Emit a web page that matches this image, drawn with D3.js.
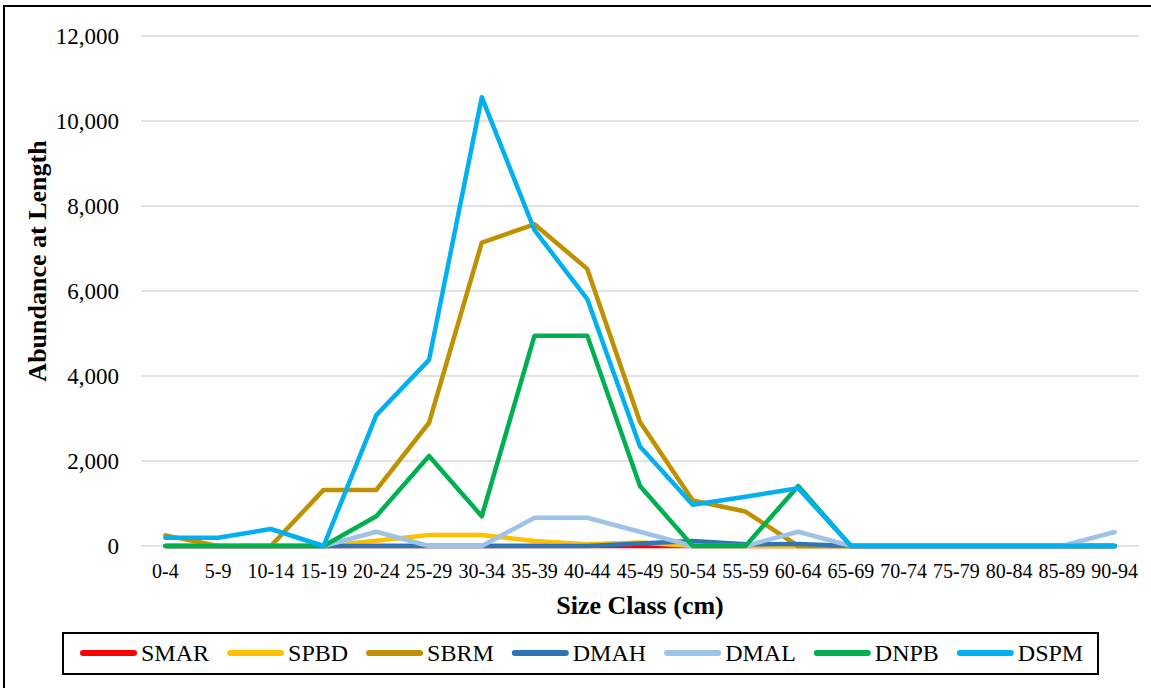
<!DOCTYPE html>
<html>
<head>
<meta charset="utf-8">
<script src="https://cdn.jsdelivr.net/npm/d3@7"></script>
<style>
  html, body { margin: 0; padding: 0; background: #fff; }
  svg { display: block; font-family: "Liberation Serif", "Times New Roman", serif; }
</style>
</head>
<body>
<svg id="chart" width="1151" height="688"></svg>
<script>
const categories = ["0-4","5-9","10-14","15-19","20-24","25-29","30-34","35-39","40-44","45-49","50-54","55-59","60-64","65-69","70-74","75-79","80-84","85-89","90-94"];
const seriesNames = ["SMAR","SPBD","SBRM","DMAH","DMAL","DNPB","DSPM"];
const SMAR = [0,0,0,0,0,0,0,0,0,0,0,0,0,0,0,0,0,0,0];
const SPBD = [0,0,0,0,125,260,260,120,40,80,0,0,0,0,0,0,0,0,0];
const SBRM = [250,0,0,1320,1320,2900,7140,7570,6520,2920,1070,810,0,0,0,0,0,0,0];
const DMAH = [0,0,0,0,0,0,0,0,0,60,120,40,50,0,0,0,0,0,0];
const DMAL = [0,0,0,0,335,0,0,665,665,335,0,0,335,0,0,0,0,0,330];
const DNPB = [0,0,0,0,700,2120,700,4950,4950,1410,0,0,1410,0,0,0,0,0,0];
const DSPM = [195,195,400,0,3080,4380,10560,7430,5810,2340,970,1160,1360,0,0,0,0,0,0];
const yTicks = [0,2000,4000,6000,8000,10000,12000];
const colors = ["#FF0000","#FFC000","#BF9000","#2E75B6","#9DC3E6","#00B050","#00B0F0"];
const seriesValues = [SMAR,SPBD,SBRM,DMAH,DMAL,DNPB,DSPM];

const svg = d3.select("#chart");

// outer frame
svg.append("rect").attr("x",4).attr("y",6).attr("width",1160).attr("height",700)
  .attr("fill","none").attr("stroke","#000").attr("stroke-width",2);

const x = d3.scaleBand().domain(categories).range([139,1141]).padding(0);
const y = d3.scaleLinear().domain([0,12000]).range([546,36]);

// gridlines
svg.append("g").selectAll("line").data(yTicks).join("line")
  .attr("x1",141).attr("x2",1139)
  .attr("y1",d=>y(d)).attr("y2",d=>y(d))
  .attr("stroke","#D9D9D9").attr("stroke-width",1.5);

// y tick labels
svg.append("g").selectAll("text").data(yTicks).join("text")
  .attr("x",119).attr("y",d=>y(d)).attr("dy","0.35em")
  .attr("text-anchor","end").attr("font-size",23).attr("fill","#000")
  .text(d=>d3.format(",")(d));

// x tick labels
svg.append("g").selectAll("text").data(categories).join("text")
  .attr("x",d=>x(d)+x.bandwidth()/2).attr("y",578)
  .attr("text-anchor","middle").attr("font-size",20).attr("fill","#000")
  .text(d=>d);

// lines
const line = d3.line().x((d,i)=>x(categories[i])+x.bandwidth()/2).y(d=>y(d));
seriesValues.forEach((vals,k)=>{
  svg.append("path").datum(vals).attr("d",line)
    .attr("fill","none").attr("stroke",colors[k]).attr("stroke-width",4.5)
    .attr("stroke-linejoin","round").attr("stroke-linecap","round");
});

// axis titles
svg.append("text").attr("x",640).attr("y",614).attr("text-anchor","middle")
  .attr("font-size",26).attr("font-weight","bold").text("Size Class (cm)");
svg.append("text").attr("transform","translate(46,261) rotate(-90)")
  .attr("text-anchor","middle").attr("font-size",26).attr("font-weight","bold")
  .text("Abundance at Length");

// legend
const lg = svg.append("g");
lg.append("rect").attr("x",63).attr("y",633).attr("width",1035).attr("height",41)
  .attr("fill","#fff").attr("stroke","#000").attr("stroke-width",2);
let cx = 83;
seriesNames.forEach((name,k)=>{
  lg.append("line").attr("x1",cx).attr("x2",cx+51).attr("y1",653).attr("y2",653)
    .attr("stroke",colors[k]).attr("stroke-width",6).attr("stroke-linecap","round");
  const t = lg.append("text").attr("x",cx+58).attr("y",653).attr("dy","0.35em")
    .attr("font-size",24).attr("fill","#000").text(name);
  const w = t.node().getComputedTextLength();
  cx = cx + 58 + w + 21;
});
</script>
</body>
</html>
